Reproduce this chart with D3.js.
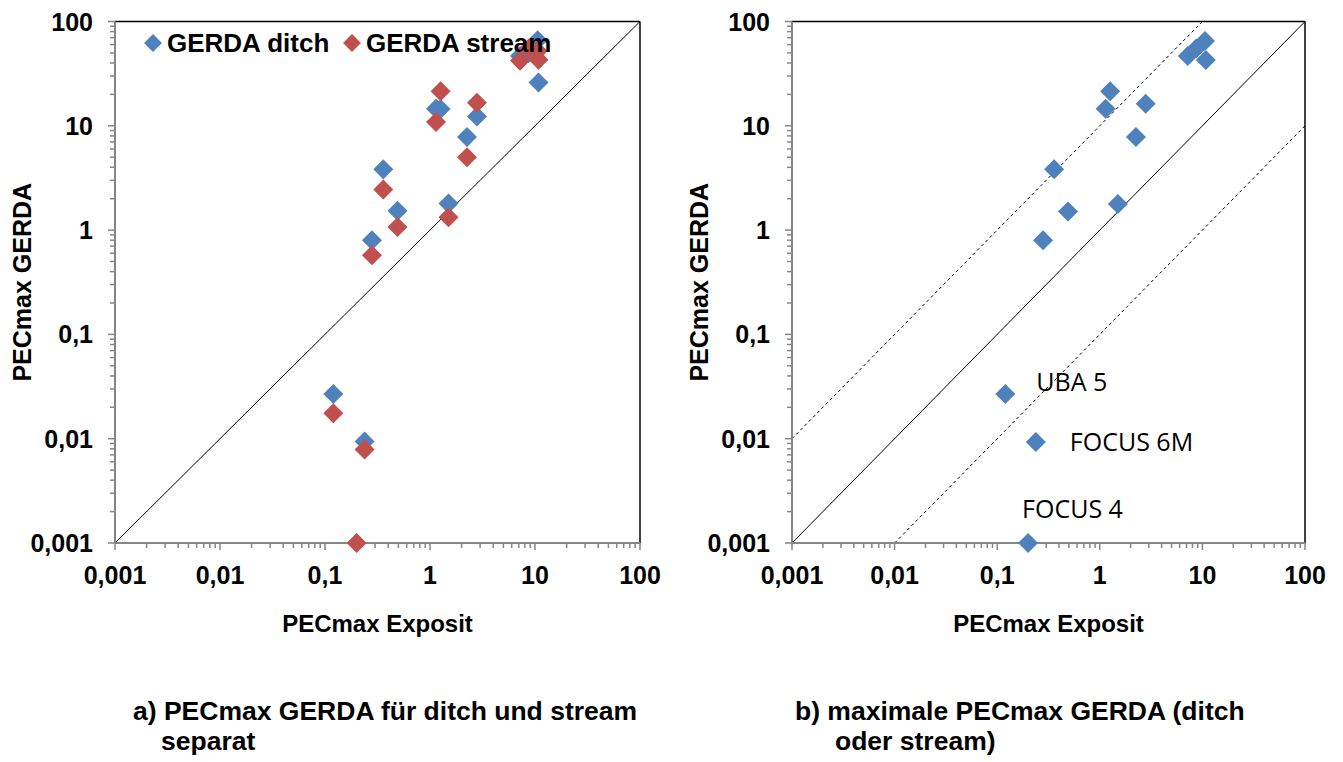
<!DOCTYPE html>
<html><head><meta charset="utf-8">
<script src="https://cdn.jsdelivr.net/npm/d3@7"></script>
<style>body{margin:0;background:#fff}</style>
</head><body><svg id="c" width="1343" height="762"></svg>
<script>
const exposit     = [0.12, 0.238, 0.2, 0.28, 0.359, 0.49, 1.14, 1.26, 1.5, 2.25, 2.8, 7.2, 8.7, 10.6, 10.8];
const gerdaDitch  = [0.0268, 0.0094, null, 0.80, 3.83, 1.53, 14.6, 14.5, 1.8, 7.8, 12.3, 46.7, 50, 66, 26];
const gerdaStream = [0.0175, 0.0079, 0.001, 0.575, 2.45, 1.07, 10.9, 21.5, 1.33, 5.0, 16.6, 42, 55, 52, 43];
const gerdaMax    = [0.0269, 0.0093, 0.001, 0.80, 3.84, 1.51, 14.6, 21.5, 1.78, 7.8, 16.3, 46.7, 55, 65, 42.8];
const tickValues = [0.001, 0.01, 0.1, 1, 10, 100];
const tickLabels = ["0,001", "0,01", "0,1", "1", "10", "100"];
const seriesNames = ["GERDA ditch", "GERDA stream"];
const seriesColors = ["#4F81BD", "#C0504D"];
const pointLabels = ["UBA 5", "FOCUS 6M", "FOCUS 4"];
const pointLabelIndex = [0, 1, 2];
const xTitle = "PECmax Exposit";
const yTitle = "PECmax GERDA";
const captionA = ["a) PECmax GERDA für ditch und stream", "separat"];
const captionB = ["b) maximale PECmax GERDA (ditch", "oder stream)"];

const svg = d3.select("#c");
const AX = "#868686";
const tickFont = "'Liberation Sans', Arial, sans-serif";
const diamond = s => d3.symbol(d3.symbolSquare, s);

function panel(x0, x1, y0, y1, refLines) {
  const x = d3.scaleLog().domain([0.001, 100]).range([x0, x1]);
  const y = d3.scaleLog().domain([0.001, 100]).range([y1, y0]);
  const g = svg.append("g");
  const isMajor = v => tickValues.some(t => Math.abs(Math.log10(t) - Math.log10(v)) < 1e-9);
  refLines.forEach(f => {
    const xa = Math.max(0.001, 0.001 / f), xb = Math.min(100, 100 / f);
    g.append("line").attr("x1", x(xa)).attr("y1", y(xa * f)).attr("x2", x(xb)).attr("y2", y(xb * f))
      .attr("stroke", "#000").attr("stroke-width", 1)
      .attr("stroke-dasharray", f === 1 ? null : "3,3");
  });
  g.append("line").attr("x1", x0).attr("x2", x1).attr("y1", y0).attr("y2", y0).attr("stroke", "#000").attr("stroke-width", 1.5);
  g.append("line").attr("x1", x1).attr("x2", x1).attr("y1", y0).attr("y2", y1).attr("stroke", "#000").attr("stroke-width", 1.5);
  const tx = x.ticks();
  g.selectAll(null).data(tx).enter().append("line")
    .attr("x1", d => x(d)).attr("x2", d => x(d)).attr("y1", y1).attr("y2", d => y1 + (isMajor(d) ? 7 : 5))
    .attr("stroke", AX).attr("stroke-width", 1.5);
  const ty = y.ticks();
  g.selectAll(null).data(ty).enter().append("line")
    .attr("y1", d => y(d)).attr("y2", d => y(d)).attr("x1", x0).attr("x2", d => x0 - (isMajor(d) ? 7 : 5))
    .attr("stroke", AX).attr("stroke-width", 1.5);
  g.append("line").attr("x1", x0).attr("x2", x1).attr("y1", y1).attr("y2", y1).attr("stroke", AX).attr("stroke-width", 2);
  g.append("line").attr("x1", x0).attr("x2", x0).attr("y1", y0).attr("y2", y1).attr("stroke", AX).attr("stroke-width", 2);
  g.selectAll(null).data(tickValues).enter().append("text")
    .attr("x", d => x(d)).attr("y", y1 + 41).attr("text-anchor", "middle")
    .style("font", `bold 25px ${tickFont}`).text((d, i) => tickLabels[i]);
  g.selectAll(null).data(tickValues).enter().append("text")
    .attr("x", x0 - 22).attr("y", d => y(d) + 9).attr("text-anchor", "end")
    .style("font", `bold 25px ${tickFont}`).text((d, i) => tickLabels[i]);
  g.append("text").attr("x", (x0 + x1) / 2).attr("y", 632).attr("text-anchor", "middle")
    .style("font", `bold 24px ${tickFont}`).text(xTitle);
  g.append("text").attr("transform", `translate(${x0 - 84},${(y0 + y1) / 2}) rotate(-90)`)
    .attr("text-anchor", "middle").style("font", `bold 25px ${tickFont}`).text(yTitle);
  return {g, x, y};
}

// Panel a
const A = panel(115, 640, 21.5, 543, [1]);
[gerdaDitch, gerdaStream].forEach((vals, si) => {
  A.g.selectAll(null).data(exposit.map((e, i) => [e, vals[i]]).filter(d => d[1] != null)).enter()
    .append("path").attr("d", diamond(200))
    .attr("transform", d => `translate(${A.x(d[0])},${A.y(d[1])}) rotate(45)`)
    .attr("fill", seriesColors[si]);
});
const legX = [153, 352];
seriesNames.forEach((n, i) => {
  A.g.append("path").attr("d", diamond(160)).attr("transform", `translate(${legX[i]},43) rotate(45)`).attr("fill", seriesColors[i]);
  A.g.append("text").attr("x", legX[i] + 14).attr("y", 52).style("font", `bold 26px ${tickFont}`).text(n);
});

// Panel b
const B = panel(792, 1305, 21.5, 543, [1, 10, 0.1]);
B.g.selectAll(null).data(exposit.map((e, i) => [e, gerdaMax[i]])).enter()
  .append("path").attr("d", diamond(200))
  .attr("transform", d => `translate(${B.x(d[0])},${B.y(d[1])}) rotate(45)`)
  .attr("fill", seriesColors[0]);
const labOff = [[31, -3], [34, 9], [-6, -25]];
pointLabelIndex.forEach((pi, k) => {
  B.g.append("text").attr("x", B.x(exposit[pi]) + labOff[k][0]).attr("y", B.y(gerdaMax[pi]) + labOff[k][1])
    .style("font", "25px 'Open Sans', sans-serif").attr("fill", "#000").text(pointLabels[k]);
});

// captions
function caption(lines, x, indent) {
  lines.forEach((t, i) => {
    svg.append("text").attr("x", x + (i ? indent : 0)).attr("y", 720 + i * 30)
      .style("font", `bold 26.5px ${tickFont}`).text(t);
  });
}
caption(captionA, 133, 28);
caption(captionB, 795, 40);
</script></body></html>
